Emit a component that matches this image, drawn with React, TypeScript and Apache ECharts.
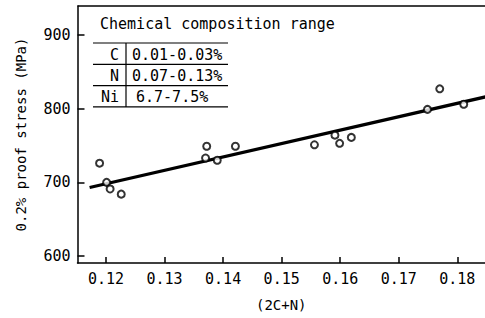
import React, { useEffect, useRef } from "react";
import * as echarts from "echarts";

const xTicks = [0.12, 0.13, 0.14, 0.15, 0.16, 0.17, 0.18];
const yTicks = [600, 700, 800, 900];
const pointsX = [0.1189, 0.1201, 0.1207, 0.1226, 0.1370, 0.1390, 0.1372, 0.1421, 0.1556, 0.1591, 0.1599, 0.1619, 0.1749, 0.1770, 0.1811];
const pointsY = [726, 700, 691, 684, 733, 730, 749, 749, 751, 764, 753, 761, 799, 827, 806];
const fitX = [0.1172, 0.1848];
const fitY = [693, 816];
const tableTitle = "Chemical composition range";
const tableElements = ["C", "N", "Ni"];
const tableRanges = ["0.01-0.03%", "0.07-0.13%", "6.7-7.5%"];

const FONT = "DejaVu Sans Mono";

export default function App() {
  const ref = useRef<HTMLDivElement>(null);
  useEffect(() => {
    if (!ref.current) return;
    const chart = echarts.init(ref.current, null, { renderer: "svg" });
    const rowTop = 43;
    const rowH = 21.3;
    const graphics: any[] = [
      {
        type: "text",
        left: 100,
        top: 16,
        style: { text: tableTitle, font: `15px '${FONT}'`, fill: "#000" },
      },
      {
        type: "line",
        shape: { x1: 126, y1: rowTop, x2: 126, y2: rowTop + rowH * 3 },
        style: { stroke: "#000", lineWidth: 1.2 },
      },
      {
        type: "line",
        shape: { x1: 77.5, y1: 6, x2: 485, y2: 6 },
        style: { stroke: "#000", lineWidth: 1.5 },
      },
    ];
    for (let i = 0; i <= 3; i++) {
      graphics.push({
        type: "line",
        shape: { x1: 93, y1: rowTop + rowH * i, x2: 228, y2: rowTop + rowH * i },
        style: { stroke: "#000", lineWidth: 1.2 },
      });
    }
    tableElements.forEach((el, i) => {
      graphics.push({
        type: "text",
        x: 119,
        y: rowTop + rowH * i + rowH / 2 + 1,
        style: { text: el, font: `15px '${FONT}'`, fill: "#000", align: "right", verticalAlign: "middle" },
      });
      graphics.push({
        type: "text",
        x: 132 + (i === 2 ? 4 : 0),
        y: rowTop + rowH * i + rowH / 2 + 1,
        style: { text: tableRanges[i], font: `15px '${FONT}'`, fill: "#000", align: "left", verticalAlign: "middle" },
      });
    });

    chart.setOption({
      animation: false,
      grid: { left: 77.5, top: 6, right: 0, bottom: 55 },
      xAxis: {
        type: "value",
        min: 0.11513,
        max: 0.18473,
        name: "(2C+N)",
        nameLocation: "middle",
        nameGap: 35,
        nameTextStyle: { fontFamily: FONT, fontSize: 14, color: "#000" },
        axisLine: { show: true, lineStyle: { color: "#000", width: 1.5 } },
        axisTick: { show: true, inside: true, length: 6, customValues: xTicks, lineStyle: { color: "#000", width: 1.5 } },
        axisLabel: {
          customValues: xTicks,
          formatter: (v: number) => v.toFixed(2),
          fontFamily: FONT,
          fontSize: 15,
          color: "#000",
          margin: 8,
        },
        splitLine: { show: false },
      },
      yAxis: {
        type: "value",
        min: 590.5,
        max: 939.4,
        name: "0.2% proof stress (MPa)",
        nameLocation: "middle",
        nameGap: 50,
        nameTextStyle: { fontFamily: FONT, fontSize: 14, color: "#000" },
        axisLine: { show: true, lineStyle: { color: "#000", width: 1.5 } },
        axisTick: { show: true, inside: true, length: 7, customValues: yTicks, lineStyle: { color: "#000", width: 1.5 } },
        axisLabel: {
          customValues: yTicks,
          fontFamily: FONT,
          fontSize: 15,
          color: "#000",
          margin: 7,
        },
        splitLine: { show: false },
      },
      graphic: graphics,
      series: [
        {
          type: "line",
          data: fitX.map((x, i) => [x, fitY[i]]),
          symbol: "none",
          lineStyle: { color: "#000", width: 3.2 },
          z: 2,
        },
        {
          type: "scatter",
          data: pointsX.map((x, i) => [x, pointsY[i]]),
          symbol: "circle",
          symbolSize: 7,
          itemStyle: { color: "#fff", borderColor: "#000", borderWidth: 2 },
          z: 3,
        },
      ],
    });
    return () => chart.dispose();
  }, []);
  return <div ref={ref} style={{ width: 485, height: 318, position: "absolute", left: 0, top: 0 }} />;
}
